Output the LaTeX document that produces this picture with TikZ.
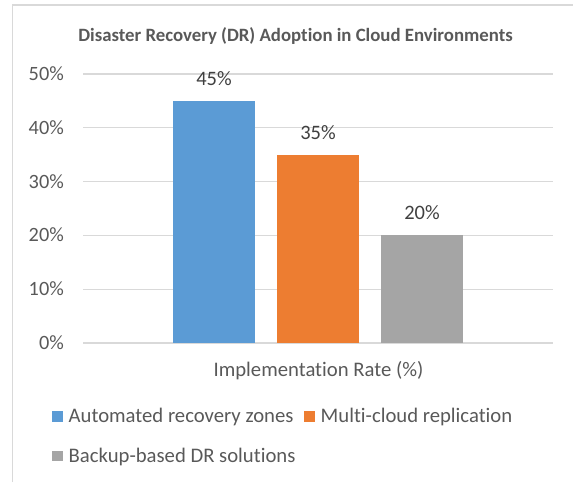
\documentclass[tikz,border=0pt]{standalone}
\usepackage{fontspec}
\setmainfont{Carlito}[Ligatures=NoCommon]
\definecolor{framegray}{HTML}{D9D9D9}
\definecolor{gridgray}{HTML}{D9D9D9}
\definecolor{axtext}{HTML}{595959}
\definecolor{valtext}{HTML}{404040}
\definecolor{cblue}{HTML}{5B9BD5}
\definecolor{corange}{HTML}{ED7D31}
\definecolor{cgray}{HTML}{A5A5A5}
\begin{document}
\begin{tikzpicture}[x=1pt,y=-1pt,
  gridline/.style={draw=gridgray,line width=1.3pt},
  ticklabel/.style={anchor=base east,inner sep=0pt,text=axtext,font=\fontsize{20.3}{24}\selectfont},
  vallabel/.style={anchor=base,inner sep=0pt,text=valtext,font=\fontsize{20.5}{24}\selectfont},
  legtext/.style={anchor=base west,inner sep=0pt,text=axtext,font=\fontsize{20.7}{24}\selectfont},
  legkey/.style={inner sep=0pt,minimum width=10.5pt,minimum height=10.5pt,anchor=north west}]
\useasboundingbox (0,0) rectangle (573,482);
% frame
\draw[framegray,line width=1.5pt] (12.5,482) -- (12.5,5) -- (573,5);
% title
\node[anchor=base,inner sep=0pt,text=axtext,font=\bfseries\fontsize{18.8}{22}\selectfont] (title) at (295.5,41) {Disaster Recovery (DR) Adoption in Cloud Environments};
% gridlines and tick labels
\foreach \i/\lab in {0/0\%,1/10\%,2/20\%,3/30\%,4/40\%,5/50\%}{
  \pgfmathsetmacro{\yy}{343-53.8*\i}
  \draw[gridline] (83,\yy) -- (553,\yy);
  \node[ticklabel] (tick\i) at (64,\yy+6.5) {\lab};
}
% bars
\fill[cblue]   (173,343) rectangle (255,100.9);
\fill[corange] (277,343) rectangle (359,154.7);
\fill[cgray]   (381,343) rectangle (463,235.4);
% value labels
\node[vallabel] (v1) at (214,85.5) {45\%};
\node[vallabel] (v2) at (318,139.2) {35\%};
\node[vallabel] (v3) at (422,219.9) {20\%};
% axis title
\node[anchor=base,inner sep=0pt,text=axtext,font=\fontsize{20.7}{24}\selectfont] (xtitle) at (318.5,376) {Implementation Rate (\%)};
% legend
\node[legkey,fill=cblue]   (k1) at (52,411) {};
\node[legtext] (l1) at (68.5,422) {Automated recovery zones};
\node[legkey,fill=corange] (k2) at (304,411) {};
\node[legtext] (l2) at (320.5,422) {Multi-cloud replication};
\node[legkey,fill=cgray]   (k3) at (52,450.5) {};
\node[legtext] (l3) at (68.5,462) {Backup-based DR solutions};
\end{tikzpicture}
\end{document}
